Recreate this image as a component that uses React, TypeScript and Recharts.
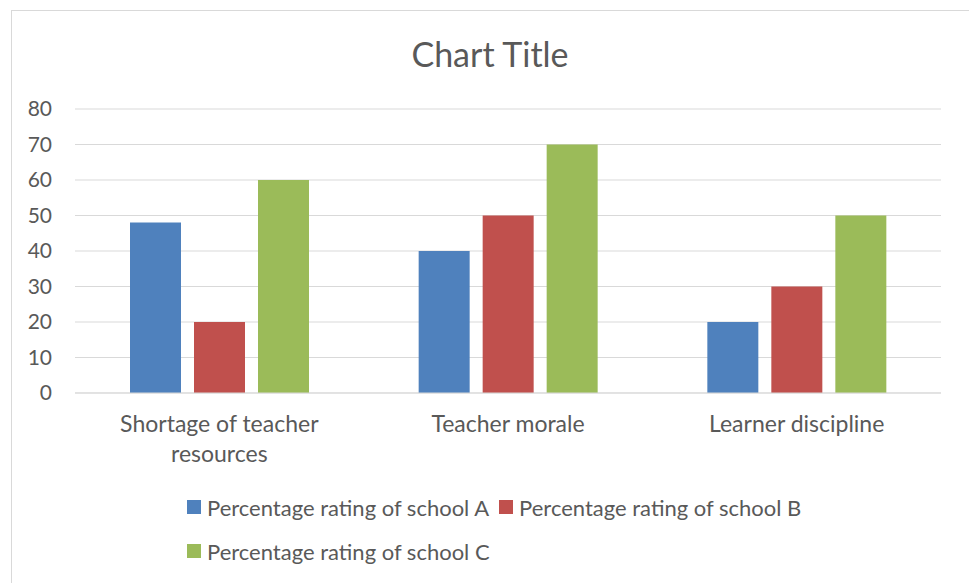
import React from 'react';
import { BarChart, Bar, XAxis, YAxis, CartesianGrid, Legend } from 'recharts';

const categories = ['Shortage of teacher resources', 'Teacher morale', 'Learner discipline'];
const schoolA = [48, 40, 20];
const schoolB = [20, 50, 30];
const schoolC = [60, 70, 50];
const seriesNames = [
  'Percentage rating of school A',
  'Percentage rating of school B',
  'Percentage rating of school C',
];
const seriesColors = ['#4F81BD', '#C0504D', '#9BBB59'];
const yTicks = [0, 10, 20, 30, 40, 50, 60, 70, 80];

const data = categories.map((name, i) => ({
  name,
  a: schoolA[i],
  b: schoolB[i],
  c: schoolC[i],
}));

const FONT = 'Lato, "Open Sans", sans-serif';
const TEXT = '#595959';

// greedy word wrap measured with a canvas
let ctx: CanvasRenderingContext2D | null = null;
const wrapLabel = (label: string, maxWidth: number, font: string) => {
  if (!ctx) ctx = document.createElement('canvas').getContext('2d');
  if (ctx) ctx.font = font;
  const measure = (s: string) => (ctx ? ctx.measureText(s).width : s.length * 11);
  const lines: string[] = [];
  let cur = '';
  label.split(' ').forEach((w) => {
    const next = cur ? cur + ' ' + w : w;
    if (cur && measure(next) > maxWidth) {
      lines.push(cur);
      cur = w;
    } else {
      cur = next;
    }
  });
  if (cur) lines.push(cur);
  return lines;
};

const CategoryTick = (props: any) => {
  const { x, y, payload } = props;
  const lines = wrapLabel(String(payload.value), 230, '23px Lato');
  return (
    <text x={x} y={y + 15} textAnchor="middle" fill={TEXT} fontSize={23} fontFamily={FONT}>
      {lines.map((line, i) => (
        <tspan key={i} x={x} dy={i === 0 ? '0.71em' : 30}>
          {line}
        </tspan>
      ))}
    </text>
  );
};

const LegendContent = (props: any) => {
  const { payload } = props;
  return (
    <div
      style={{
        display: 'flex',
        flexWrap: 'wrap',
        width: 660,
        marginLeft: 187,
        paddingTop: 12,
        height: 88,
        fontFamily: FONT,
        fontSize: 22,
        color: TEXT,
      }}
    >
      {(payload || []).map((entry: any) => (
        <div
          key={entry.value}
          style={{ display: 'flex', alignItems: 'center', height: 44, marginRight: 10 }}
        >
          <span style={{ width: 14, height: 14, background: entry.color, marginRight: 6 }} />
          <span style={{ whiteSpace: 'nowrap' }}>{entry.value}</span>
        </div>
      ))}
    </div>
  );
};

export default function App() {
  return (
    <div
      style={{
        position: 'absolute',
        left: 0,
        top: 0,
        width: 969,
        height: 583,
        overflow: 'hidden',
        background: '#fff',
      }}
    >
      <div
        style={{
          position: 'absolute',
          left: 11,
          top: 10,
          width: 980,
          height: 600,
          border: '1px solid #d9d9d9',
        }}
      />
      <div
        style={{
          position: 'absolute',
          left: 11,
          top: 33,
          width: 958,
          height: 42,
          lineHeight: '42px',
          textAlign: 'center',
          fontFamily: FONT,
          fontSize: 34,
          color: TEXT,
        }}
      >
        Chart Title
      </div>
      <BarChart
        width={969}
        height={583}
        data={data}
        margin={{ top: 109, right: 28, left: 0, bottom: 10 }}
        barGap={13}
      >
        <CartesianGrid vertical={false} stroke="#d9d9d9" />
        <XAxis
          dataKey="name"
          height={80}
          axisLine={{ stroke: '#d9d9d9' }}
          tickLine={false}
          tick={<CategoryTick />}
          interval={0}
        />
        <YAxis
          width={75}
          domain={[0, 80]}
          ticks={yTicks}
          axisLine={false}
          tickLine={false}
          tickMargin={17}
          tick={{ fill: TEXT, fontSize: 21, fontFamily: FONT }}
        />
        <Legend
          verticalAlign="bottom"
          content={<LegendContent />}
          wrapperStyle={{ left: 0, width: 969 }}
        />
        <Bar dataKey="a" name={seriesNames[0]} fill={seriesColors[0]} barSize={51} isAnimationActive={false} />
        <Bar dataKey="b" name={seriesNames[1]} fill={seriesColors[1]} barSize={51} isAnimationActive={false} />
        <Bar dataKey="c" name={seriesNames[2]} fill={seriesColors[2]} barSize={51} isAnimationActive={false} />
      </BarChart>
    </div>
  );
}
